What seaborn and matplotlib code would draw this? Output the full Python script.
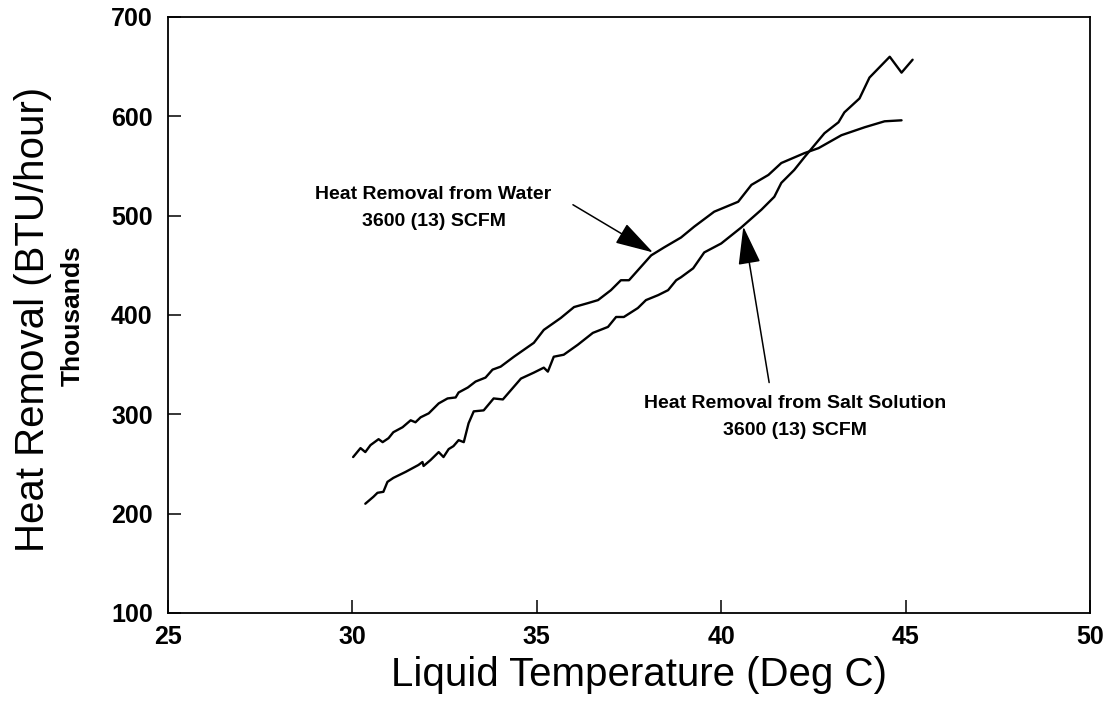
import matplotlib
matplotlib.use("Agg")
import matplotlib.pyplot as plt
import seaborn as sns
import pandas as pd

# ---- data ----
water_temp = [30.02, 30.22, 30.35, 30.49, 30.71, 30.82, 30.98, 31.11, 31.36, 31.58,
              31.71, 31.85, 32.07, 32.34, 32.58, 32.80, 32.88, 33.13, 33.34, 33.61,
              33.80, 34.02, 34.38, 34.92, 35.19, 35.65, 36.01, 36.39, 36.66, 37.01,
              37.28, 37.50, 37.74, 38.10, 38.45, 38.91, 39.27, 39.81, 40.46, 40.82,
              41.28, 41.63, 42.26, 42.64, 43.26, 43.89, 44.43, 44.89]
water_heat = [257, 266, 262, 269, 275, 272, 276, 282, 287, 294,
              292, 297, 301, 311, 316, 317, 322, 327, 333, 337,
              345, 348, 358, 372, 385, 397, 408, 412, 415, 425,
              435, 435, 445, 460, 468, 478, 489, 504, 514, 531,
              541, 553, 563, 568, 581, 589, 595, 596]

salt_temp = [30.35, 30.57, 30.68, 30.84, 30.95, 31.11, 31.44, 31.79, 31.90, 31.93,
             32.12, 32.34, 32.47, 32.61, 32.74, 32.88, 33.02, 33.15, 33.29, 33.56,
             33.83, 34.08, 34.29, 34.57, 34.92, 35.19, 35.30, 35.46, 35.73, 36.11,
             36.52, 36.93, 37.15, 37.36, 37.74, 37.96, 38.29, 38.56, 38.78, 38.91,
             39.24, 39.54, 40.00, 40.54, 41.09, 41.44, 41.63, 41.98, 42.26, 42.53,
             42.80, 43.18, 43.34, 43.75, 44.02, 44.57, 44.89, 45.19]
salt_heat = [210, 217, 221, 222, 232, 236, 242, 249, 252, 248,
             254, 262, 257, 265, 268, 274, 272, 291, 303, 304,
             316, 315, 324, 336, 342, 347, 343, 358, 360, 370,
             382, 388, 398, 398, 407, 415, 420, 425, 435, 438,
             447, 463, 472, 488, 506, 519, 533, 546, 559, 571,
             583, 594, 604, 618, 639, 660, 644, 657]

x_ticks = [25, 30, 35, 40, 45, 50]
y_ticks = [100, 200, 300, 400, 500, 600, 700]

water_label = "Heat Removal from Water\n3600 (13) SCFM"
salt_label = "Heat Removal from Salt Solution\n3600 (13) SCFM"
x_title = "Liquid Temperature (Deg C)"
y_title = "Heat Removal (BTU/hour)"
y_sub = "Thousands"

df = pd.concat([
    pd.DataFrame({"temp": water_temp, "heat": water_heat, "series": "water"}),
    pd.DataFrame({"temp": salt_temp, "heat": salt_heat, "series": "salt"}),
], ignore_index=True)

sns.set_theme(style="ticks")
plt.rcParams["font.family"] = ["Liberation Sans", "DejaVu Sans"]
plt.rcParams["text.color"] = "black"
plt.rcParams["axes.labelcolor"] = "black"
plt.rcParams["xtick.color"] = "black"
plt.rcParams["ytick.color"] = "black"

fig = plt.figure(figsize=(11.18, 7.04), dpi=100)
ax = fig.add_axes([168 / 1118, 1 - 613 / 704, (1090 - 168) / 1118, (613 - 17) / 704])

sns.lineplot(data=df, x="temp", y="heat", units="series", estimator=None,
             sort=False, color="black", linewidth=1.7, ax=ax, legend=False)

ax.set_xlim(25, 50)
ax.set_ylim(100, 700)
ax.set_xticks(x_ticks)
ax.set_yticks(y_ticks)
ax.set_xticklabels([str(t) for t in x_ticks], fontsize=18, fontweight="bold")
ax.set_yticklabels([str(t) for t in y_ticks], fontsize=18, fontweight="bold")
ax.tick_params(axis="both", direction="in", length=9.5, width=1.1, colors="black",
               top=False, right=False)
ax.tick_params(axis="y", pad=11)
ax.tick_params(axis="x", pad=9)
for sp in ax.spines.values():
    sp.set_visible(True)
    sp.set_linewidth(1.3)
    sp.set_color("black")

ax.set_xlabel(x_title, fontsize=29, va="center", color="black")
ax.xaxis.set_label_coords((639 - 168) / 922, (613 - 675) / 596)
ax.set_ylabel(y_title, fontsize=29, va="center", color="black")
ax.yaxis.set_label_coords((33 - 168) / 922, (613 - 319) / 596)
fig.text(73 / 1118, 1 - 316 / 704, y_sub, rotation=90, ha="center", va="center",
         fontsize=19, fontweight="bold", color="black")

arrow_kw = dict(arrowstyle="-|>,head_length=1.2,head_width=0.35", color="black",
                lw=1.1, shrinkA=0, shrinkB=0, mutation_scale=20)
ax.annotate("", xy=(38.15, 463), xytext=(35.98, 511), arrowprops=arrow_kw)
ax.annotate("", xy=(40.6, 489), xytext=(41.3, 332), arrowprops=arrow_kw)

ax.text(32.2, 508, water_label, ha="center", va="center", fontsize=14,
        fontweight="bold", linespacing=1.75, color="black")
ax.text(42.0, 297, salt_label, ha="center", va="center", fontsize=14,
        fontweight="bold", linespacing=1.75, color="black")

fig.savefig("out.png", dpi=100, facecolor="white")
